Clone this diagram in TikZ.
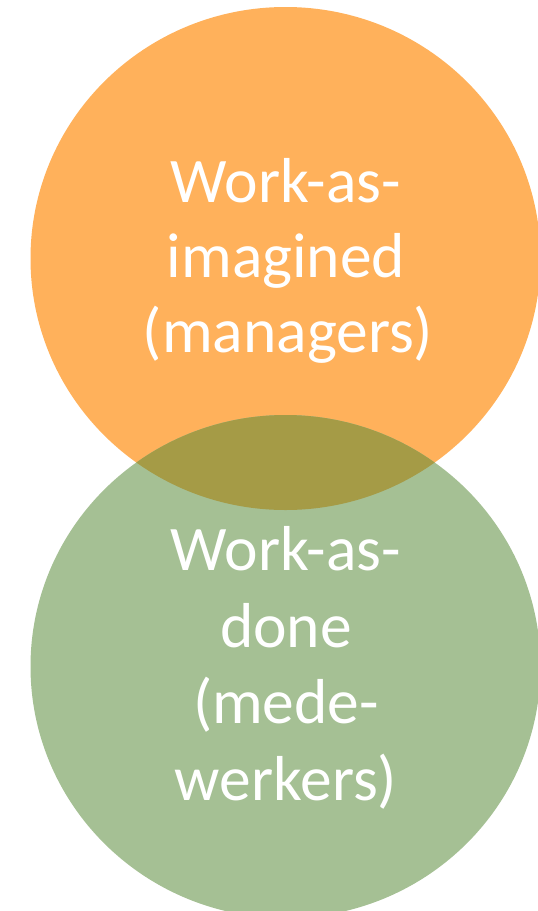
\documentclass[tikz,border=0pt]{standalone}
\usepackage{fontspec}
\usetikzlibrary{shapes.geometric}
\setmainfont{Carlito}
\definecolor{wai}{RGB}{255,177,91}
\definecolor{wad}{RGB}{165,192,148}
\definecolor{both}{RGB}{165,155,70}
\begin{document}
\begin{tikzpicture}[x=1pt,y=-1pt,
  blob/.style={ellipse,minimum width=510pt,minimum height=503pt,inner sep=0pt,draw=none},
  lbl/.style={anchor=base,text=white,inner sep=0pt,font=\fontsize{63.5}{76}\selectfont}]
\useasboundingbox (0,0) rectangle (538,911);
\node[blob,fill=wai] (imag) at (285.5,258.5) {};
\node[blob,fill=wad] (done) at (285.5,666.5) {};
\begin{scope}
  \clip (285.5,258.5) ellipse [x radius=255pt, y radius=251.5pt];
  \fill[both] (285.5,666.5) ellipse [x radius=255pt, y radius=251.5pt];
\end{scope}
\node[lbl] (i1) at (286,202) {Work-as-};
\node[lbl] (i2) at (286,277) {imagined};
\node[lbl] (i3) at (288,352) {(managers)};
\node[lbl] (d1) at (286,570) {Work-as-};
\node[lbl] (d2) at (286,647) {done};
\node[lbl] (d3) at (286,723) {(mede-};
\node[lbl] (d4) at (286,800) {werkers)};
\end{tikzpicture}
\end{document}
